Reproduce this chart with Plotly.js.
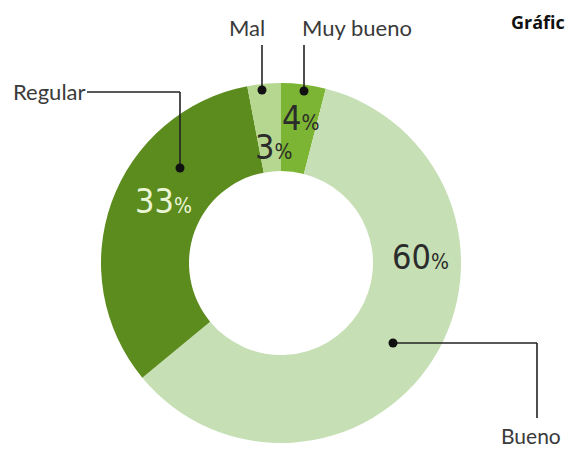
<!DOCTYPE html>
<html>
<head>
<meta charset="utf-8">
<script src="https://cdn.plot.ly/plotly-3.0.1.min.js"></script>
<style>html,body{margin:0;padding:0;background:#fff;overflow:hidden}#chart{width:569px;height:452px}</style>
</head>
<body>
<div id="chart"></div>
<script>
// Data
const categories = ["Muy bueno", "Bueno", "Regular", "Mal"];
const values = [4, 60, 33, 3];
const sliceColors = ["#7cb433", "#c6dfb4", "#5c8b1e", "#b5d78f"];
const titleText = "Gráfic";

const W = 569, H = 452;
const px = x => x / W;
const py = y => 1 - y / H;

// pie geometry (pixels)
const cx = 281, cy = 263, R = 180, r = 92;

const trace = {
  type: "pie",
  labels: categories,
  values: values,
  sort: false,
  direction: "clockwise",
  rotation: 0,
  hole: r / R,
  marker: { colors: sliceColors, line: { width: 0 } },
  textinfo: "none",
  hoverinfo: "none",
  showlegend: false,
  domain: { x: [px(cx - R), px(cx + R)], y: [py(cy + R), py(cy - R)] }
};

const pctFont = "'Liberation Sans Narrow', 'DejaVu Sans Condensed', 'Liberation Sans', sans-serif";
const lblFont = "Lato, 'Liberation Sans', sans-serif";

function pct(i) {
  return values[i] + '<span style="font-size:21px">%</span>';
}

// label positions (pixels)
const pctPos = [[300, 118], [420, 257], [163, 201], [273, 147]];
const pctColor = ["#2b2b2b", "#2b2b2b", "#eaf5d6", "#2b2b2b"];
const namePos = [[300, 28, "left", 22], [563, 435, "right", 21], [11, 92, "left", 22], [227, 28, "left", 22]];

const annotations = [];
for (let i = 0; i < categories.length; i++) {
  annotations.push({
    xref: "paper", yref: "paper",
    x: px(pctPos[i][0]), y: py(pctPos[i][1]),
    xanchor: "center", yanchor: "middle",
    text: pct(i), showarrow: false,
    font: { family: pctFont, size: 34, color: pctColor[i] }
  });
  annotations.push({
    xref: "paper", yref: "paper",
    x: px(namePos[i][0]), y: py(namePos[i][1]),
    xanchor: namePos[i][2], yanchor: "middle",
    text: categories[i], showarrow: false,
    font: { family: lblFont, size: namePos[i][3], color: "#3a3a3a" }
  });
}
annotations.push({
  xref: "paper", yref: "paper",
  x: px(567), y: py(22), xanchor: "right", yanchor: "middle",
  text: "<b>" + titleText + "</b>", showarrow: false,
  font: { family: "'Open Sans', sans-serif", size: 18, color: "#111" }
});

const lc = "#222";
function seg(x0, y0, x1, y1) {
  return { type: "line", xref: "paper", yref: "paper",
    x0: px(x0), y0: py(y0), x1: px(x1), y1: py(y1),
    line: { color: lc, width: 1.6 } };
}
function dot(x, y) {
  const d = 4.5;
  return { type: "circle", xref: "paper", yref: "paper",
    x0: px(x - d), y0: py(y + d), x1: px(x + d), y1: py(y - d),
    fillcolor: "#111", line: { color: "#111", width: 0 } };
}
const shapes = [
  seg(262, 45, 262, 90), dot(262, 90),
  seg(304, 45, 304, 91), dot(304, 91),
  seg(87, 92, 180, 92), seg(180, 92, 180, 168), dot(180, 168),
  seg(393, 343, 537, 343), seg(537, 343, 537, 418), dot(393, 343)
];

const layout = {
  width: W, height: H,
  margin: { l: 0, r: 0, t: 0, b: 0, pad: 0 },
  paper_bgcolor: "#ffffff",
  plot_bgcolor: "#ffffff",
  showlegend: false,
  annotations: annotations,
  shapes: shapes
};

Plotly.newPlot("chart", [trace], layout, { displayModeBar: false, staticPlot: true });
</script>
</body>
</html>
